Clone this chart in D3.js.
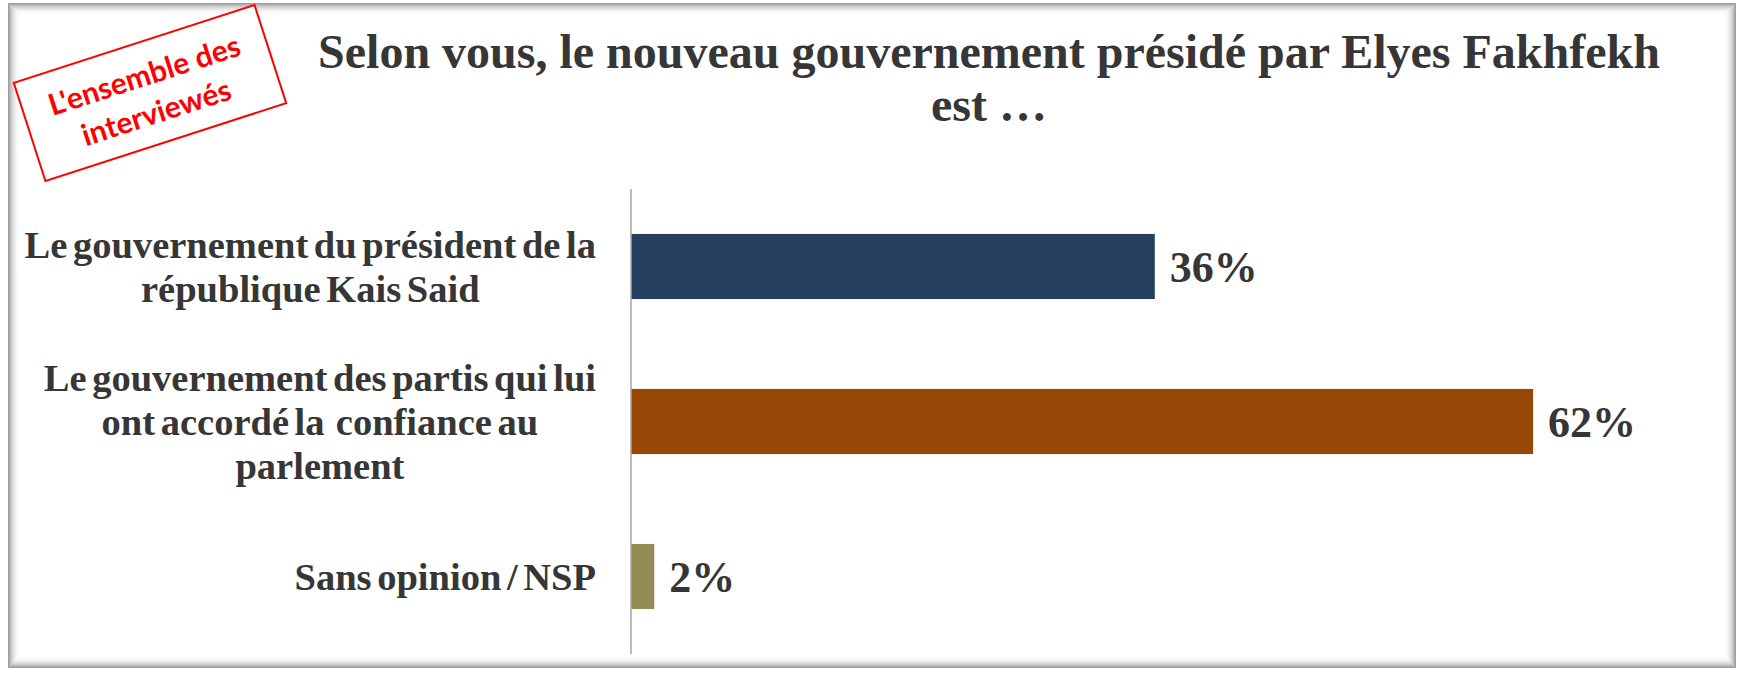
<!DOCTYPE html>
<html>
<head>
<meta charset="utf-8">
<script src="https://cdn.jsdelivr.net/npm/d3@7"></script>
<style>
  body { margin: 0; background: #fff; }
  svg { display: block; }
</style>
</head>
<body>
<div id="chart"></div>
<script>
// data
var categories = [
  ["Le gouvernement du président de la", "république Kais Said"],
  ["Le gouvernement des partis qui lui", "ont accordé la  confiance au", "parlement"],
  ["Sans opinion / NSP"]
];
var values = [36, 62, 1.6];
var barColors = ["#264061", "#974706", "#948a54"];
var titleLines = ["Selon vous, le nouveau gouvernement présidé par Elyes Fakhfekh", "est …"];
var stampLines = ["L'ensemble des", "interviewés"];

var W = 1744, H = 677;
var serif = "'Times New Roman', 'Liberation Serif', serif";
var textColor = "#363636";

var svg = d3.select("#chart").append("svg")
    .attr("width", W)
    .attr("height", H);

// frame with soft inner shadow
var frame = {x: 8, y: 3, w: 1728, h: 665};
svg.append("rect")
    .attr("x", frame.x).attr("y", frame.y)
    .attr("width", frame.w).attr("height", frame.h)
    .attr("fill", "#fff");
d3.range(0, 12).forEach(function(i) {
  var a = 0.5 * Math.pow(1 - i / 12, 2.2);
  svg.append("rect")
      .attr("x", frame.x + i + 0.5).attr("y", frame.y + i + 0.5)
      .attr("width", frame.w - 2 * i - 1).attr("height", frame.h - 2 * i - 1)
      .attr("fill", "none")
      .attr("stroke", "rgba(60,60,60," + a + ")")
      .attr("stroke-width", 1);
});

// title
svg.append("g").selectAll("text")
    .data(titleLines)
    .enter().append("text")
    .attr("x", 989)
    .attr("y", function(d, i) { return 68 + i * 53; })
    .attr("text-anchor", "middle")
    .attr("font-family", serif)
    .attr("font-weight", "bold")
    .attr("font-size", "48px")
    .attr("fill", textColor)
    .text(function(d) { return d; });

// stamp
var stamp = svg.append("g")
    .attr("transform", "translate(150,93) rotate(-17.9)");
stamp.append("rect")
    .attr("x", -126.5).attr("y", -51.5)
    .attr("width", 253).attr("height", 103)
    .attr("fill", "#fff")
    .attr("stroke", "#ff0000")
    .attr("stroke-width", 2);
stamp.selectAll("text")
    .data(stampLines)
    .enter().append("text")
    .attr("x", 0)
    .attr("y", function(d, i) { return -8 + i * 39; })
    .attr("text-anchor", "middle")
    .attr("font-family", "Lato, 'Open Sans', sans-serif")
    .attr("font-weight", "bold")
    .attr("font-size", "30px")
    .attr("fill", "#ff0000")
    .text(function(d) { return d; });

// scales
var x0 = 631;
var x = d3.scaleLinear().domain([0, 100]).range([x0, x0 + 1455]);
var y = d3.scaleBand()
    .domain(d3.range(values.length))
    .range([189, 654])
    .paddingInner(0.58)
    .paddingOuter(0.29);

var plot = svg.append("g");

plot.selectAll("rect.bar")
    .data(values)
    .enter().append("rect")
    .attr("class", "bar")
    .attr("x", x(0))
    .attr("y", function(d, i) { return y(i); })
    .attr("width", function(d) { return x(d) - x(0); })
    .attr("height", y.bandwidth())
    .attr("fill", function(d, i) { return barColors[i]; });

// vertical axis line
plot.append("line")
    .attr("x1", x(0)).attr("x2", x(0))
    .attr("y1", y.range()[0]).attr("y2", y.range()[1])
    .attr("stroke", "#a6a6a6")
    .attr("stroke-width", 1.5);

// value labels
var fmt = function(d) { return Math.round(d) + "%"; };
plot.selectAll("text.val")
    .data(values)
    .enter().append("text")
    .attr("class", "val")
    .attr("x", function(d) { return x(d) + 15; })
    .attr("y", function(d, i) { return y(i) + y.bandwidth() / 2; })
    .attr("dy", "0.36em")
    .attr("font-family", serif)
    .attr("font-weight", "bold")
    .attr("font-size", "44px")
    .attr("fill", textColor)
    .text(fmt);

// category labels: block right aligned near the axis, lines centred inside
var lineH = 44;
var labelRight = 596;
categories.forEach(function(lines, i) {
  var g = plot.append("g");
  var cy = y(i) + y.bandwidth() / 2;
  var t = g.selectAll("text")
      .data(lines)
      .enter().append("text")
      .attr("y", function(d, j) { return cy + (j - (lines.length - 1) / 2) * lineH; })
      .attr("dy", "0.35em")
      .attr("text-anchor", "middle")
      .attr("font-family", serif)
      .attr("font-weight", "bold")
      .attr("font-size", "38.5px")
      .attr("word-spacing", "-4px")
      .style("white-space", "pre")
      .attr("fill", textColor)
      .text(function(d) { return d; });
  var maxW = d3.max(t.nodes(), function(n) { return n.getComputedTextLength(); });
  t.attr("x", labelRight - maxW / 2);
});
</script>
</body>
</html>
